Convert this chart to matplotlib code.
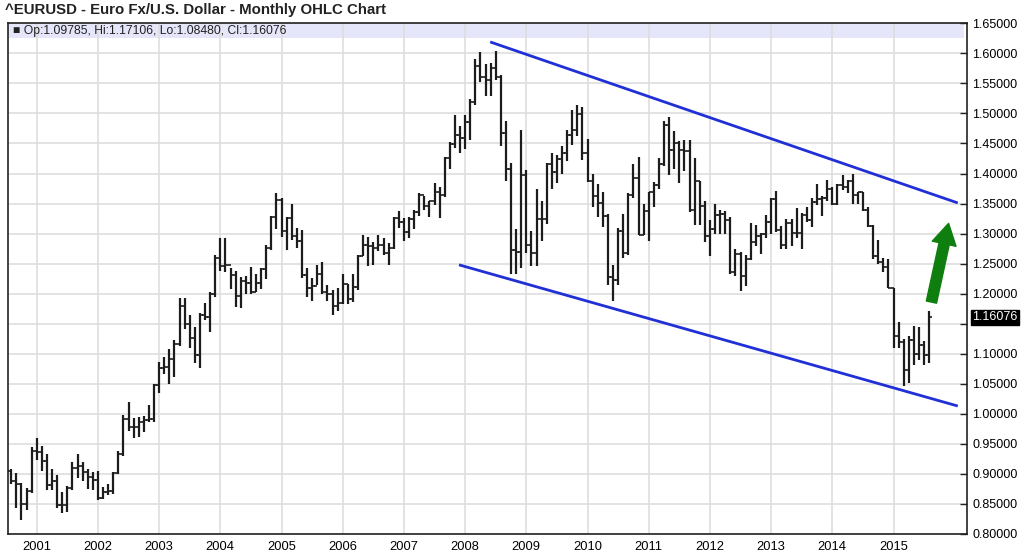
# EURUSD monthly OHLC with a falling channel drawn on top
# - bars Aug 2000 .. Aug 2015 (last one partial)
# - two hand-drawn channel lines and a green "up" arrow

# %%
import matplotlib
matplotlib.use("Agg")
import pandas as pd
from matplotlib import pyplot as plt
from matplotlib import transforms

plt.rcParams['font.family'] = ['Liberation Sans', 'DejaVu Sans']

# %% Data
months = pd.period_range("2000-08", "2015-08", freq="M")

opens = [
    0.9050, 0.8876, 0.8825, 0.8493, 0.8716,
    0.9388, 0.9366, 0.9213, 0.8809, 0.8884, 0.8478, 0.8478, 0.8763, 0.9100, 0.9124, 0.9039, 0.8953,
    0.8895, 0.8604, 0.8702, 0.8721, 0.9012, 0.9336, 0.9917, 0.9783, 0.9786, 0.9866, 0.9891, 0.9921,
    1.0487, 1.0765, 1.0786, 1.0908, 1.1161, 1.1793, 1.1499, 1.1256, 1.0976, 1.1652, 1.1604, 1.1991,
    1.2597, 1.2453, 1.2480, 1.2308, 1.1963, 1.2218, 1.2179, 1.2030, 1.2174, 1.2415, 1.2768, 1.3274,
    1.3554, 1.3047, 1.3255, 1.2963, 1.2870, 1.2303, 1.2100, 1.2125, 1.2334, 1.2026, 1.1990, 1.1792,
    1.1849, 1.2154, 1.1918, 1.2116, 1.2624, 1.2813, 1.2791, 1.2765, 1.2810, 1.2676, 1.2759, 1.3254,
    1.3199, 1.3032, 1.3236, 1.3362, 1.3649, 1.3459, 1.3543, 1.3686, 1.3638, 1.4265, 1.4491, 1.4637,
    1.4590, 1.4857, 1.5183, 1.5787, 1.5604, 1.5552, 1.5751, 1.5604, 1.4675, 1.4082, 1.2732, 1.2699,
    1.3978, 1.2805, 1.2672, 1.3250, 1.3242, 1.4151, 1.4032, 1.4245, 1.4334, 1.4638, 1.4718, 1.4996,
    1.4338, 1.3868, 1.3630, 1.3511, 1.3295, 1.2278, 1.2235, 1.3050, 1.2677, 1.3634, 1.3924, 1.2983,
    1.3384, 1.3689, 1.3802, 1.4165, 1.4807, 1.4394, 1.4501, 1.4393, 1.4374, 1.3391, 1.3867, 1.3451,
    1.2961, 1.3079, 1.3316, 1.3322, 1.3231, 1.2365, 1.2667, 1.2302, 1.2576, 1.2860, 1.2954, 1.2985,
    1.3193, 1.3579, 1.3055, 1.2816, 1.3169, 1.3002, 1.3010, 1.3302, 1.3222, 1.3525, 1.3583, 1.3590,
    1.3743, 1.3487, 1.3803, 1.3770, 1.3871, 1.3635, 1.3690, 1.3388, 1.3131, 1.2630, 1.2525, 1.2452,
    1.2098, 1.1289, 1.1196, 1.0731, 1.1224, 1.0988, 1.1147, 1.09785,
]
highs = [
    0.9080, 0.9020, 0.8850, 0.8760, 0.9440,
    0.9594, 0.9464, 0.9330, 0.9080, 0.8980, 0.8700, 0.8800, 0.9200, 0.9338, 0.9204, 0.9080, 0.9030,
    0.9050, 0.8780, 0.8840, 0.9040, 0.9380, 0.9975, 1.0190, 0.9930, 0.9950, 0.9960, 1.0140, 1.0500,
    1.0870, 1.0940, 1.1080, 1.1230, 1.1930, 1.1930, 1.1640, 1.1440, 1.1680, 1.1850, 1.2020, 1.2640,
    1.2930, 1.2930, 1.2430, 1.2370, 1.2280, 1.2300, 1.2440, 1.2330, 1.2430, 1.2810, 1.3290, 1.3670,
    1.3590, 1.3280, 1.3490, 1.3100, 1.3060, 1.2420, 1.2260, 1.2480, 1.2530, 1.2150, 1.2060, 1.2090,
    1.2320, 1.2160, 1.2320, 1.2640, 1.2980, 1.2950, 1.2860, 1.2980, 1.2920, 1.2840, 1.3270, 1.3370,
    1.3260, 1.3270, 1.3390, 1.3680, 1.3630, 1.3550, 1.3850, 1.3780, 1.4280, 1.4520, 1.4970, 1.4790,
    1.4970, 1.5240, 1.5900, 1.6020, 1.5820, 1.5840, 1.6040, 1.5640, 1.4870, 1.4180, 1.3080, 1.4720,
    1.4060, 1.3050, 1.3740, 1.3540, 1.4170, 1.4340, 1.4300, 1.4450, 1.4720, 1.5060, 1.5140, 1.5100,
    1.4580, 1.3990, 1.3820, 1.3690, 1.3330, 1.2470, 1.3100, 1.3330, 1.3680, 1.4160, 1.4280, 1.3500,
    1.3700, 1.3860, 1.4250, 1.4880, 1.4940, 1.4700, 1.4540, 1.4550, 1.4550, 1.4250, 1.3880, 1.3550,
    1.3230, 1.3490, 1.3390, 1.3380, 1.3280, 1.2750, 1.2690, 1.2640, 1.3170, 1.3140, 1.3010, 1.3310,
    1.3590, 1.3710, 1.3130, 1.3240, 1.3240, 1.3420, 1.3340, 1.3450, 1.3590, 1.3830, 1.3620, 1.3890,
    1.3770, 1.3820, 1.3970, 1.3900, 1.3990, 1.3700, 1.3700, 1.3440, 1.3150, 1.2890, 1.2600, 1.2570,
    1.2100, 1.1530, 1.1240, 1.1290, 1.1470, 1.1440, 1.1220, 1.17106,
]
lows = [
    0.8840, 0.8440, 0.8228, 0.8400, 0.8690,
    0.9230, 0.9054, 0.8736, 0.8740, 0.8430, 0.8350, 0.8370, 0.8730, 0.8932, 0.8886, 0.8750, 0.8730,
    0.8570, 0.8580, 0.8650, 0.8660, 0.9000, 0.9300, 0.9720, 0.9600, 0.9620, 0.9690, 0.9870, 0.9860,
    1.0340, 1.0660, 1.0500, 1.0620, 1.1130, 1.1410, 1.1090, 1.0840, 1.0770, 1.1560, 1.1360, 1.1950,
    1.2370, 1.2360, 1.2080, 1.1770, 1.1760, 1.1990, 1.2000, 1.2020, 1.2080, 1.2250, 1.2730, 1.3080,
    1.2950, 1.2730, 1.2890, 1.2760, 1.2260, 1.1950, 1.1870, 1.2140, 1.2000, 1.1870, 1.1640, 1.1710,
    1.1830, 1.1830, 1.1860, 1.2060, 1.2620, 1.2460, 1.2480, 1.2710, 1.2650, 1.2480, 1.2740, 1.3100,
    1.2870, 1.2930, 1.3070, 1.3300, 1.3390, 1.3270, 1.3480, 1.3260, 1.3610, 1.4080, 1.4420, 1.4340,
    1.4400, 1.4560, 1.5140, 1.5530, 1.5290, 1.5290, 1.5560, 1.4450, 1.3880, 1.2330, 1.2330, 1.2420,
    1.2680, 1.2460, 1.2460, 1.2880, 1.3160, 1.3750, 1.3840, 1.4000, 1.4210, 1.4480, 1.4630, 1.4220,
    1.3860, 1.3440, 1.3270, 1.3110, 1.2140, 1.1880, 1.2150, 1.2590, 1.2640, 1.3600, 1.2970, 1.2970,
    1.2870, 1.3450, 1.3750, 1.4120, 1.3970, 1.4070, 1.3840, 1.4050, 1.3360, 1.3150, 1.3150, 1.2860,
    1.2620, 1.3000, 1.3000, 1.3000, 1.2330, 1.2290, 1.2040, 1.2130, 1.2560, 1.2800, 1.2660, 1.2930,
    1.2990, 1.3030, 1.2750, 1.2740, 1.2790, 1.2930, 1.2750, 1.3200, 1.3110, 1.3480, 1.3300, 1.3550,
    1.3480, 1.3480, 1.3720, 1.3670, 1.3500, 1.3500, 1.3370, 1.3110, 1.2570, 1.2500, 1.2360, 1.2090,
    1.1100, 1.1100, 1.0460, 1.0520, 1.0820, 1.0890, 1.0810, 1.08480,
]
closes = [
    0.8876, 0.8825, 0.8493, 0.8716, 0.9388,
    0.9366, 0.9213, 0.8809, 0.8884, 0.8478, 0.8478, 0.8763, 0.9100, 0.9124, 0.9039, 0.8953, 0.8895,
    0.8604, 0.8702, 0.8721, 0.9012, 0.9336, 0.9917, 0.9783, 0.9786, 0.9866, 0.9891, 0.9921, 1.0487,
    1.0765, 1.0786, 1.0908, 1.1161, 1.1793, 1.1499, 1.1256, 1.0976, 1.1652, 1.1604, 1.1991, 1.2597,
    1.2453, 1.2480, 1.2308, 1.1963, 1.2218, 1.2179, 1.2030, 1.2174, 1.2415, 1.2768, 1.3274, 1.3554,
    1.3047, 1.3255, 1.2963, 1.2870, 1.2303, 1.2100, 1.2125, 1.2334, 1.2026, 1.1990, 1.1792, 1.1849,
    1.2154, 1.1918, 1.2116, 1.2624, 1.2813, 1.2791, 1.2765, 1.2810, 1.2676, 1.2759, 1.3254, 1.3199,
    1.3032, 1.3236, 1.3362, 1.3649, 1.3459, 1.3543, 1.3686, 1.3638, 1.4265, 1.4491, 1.4637, 1.4590,
    1.4857, 1.5183, 1.5787, 1.5604, 1.5552, 1.5751, 1.5604, 1.4675, 1.4082, 1.2732, 1.2699, 1.3978,
    1.2805, 1.2672, 1.3250, 1.3242, 1.4151, 1.4032, 1.4245, 1.4334, 1.4638, 1.4718, 1.4996, 1.4338,
    1.3868, 1.3630, 1.3511, 1.3295, 1.2278, 1.2235, 1.3050, 1.2677, 1.3634, 1.3924, 1.2983, 1.3384,
    1.3689, 1.3802, 1.4165, 1.4807, 1.4394, 1.4501, 1.4393, 1.4374, 1.3391, 1.3867, 1.3451, 1.2961,
    1.3079, 1.3316, 1.3322, 1.3231, 1.2365, 1.2667, 1.2302, 1.2576, 1.2860, 1.2954, 1.2985, 1.3193,
    1.3579, 1.3055, 1.2816, 1.3169, 1.3002, 1.3010, 1.3302, 1.3222, 1.3525, 1.3583, 1.3590, 1.3743,
    1.3487, 1.3803, 1.3770, 1.3871, 1.3635, 1.3690, 1.3388, 1.3131, 1.2630, 1.2525, 1.2452, 1.2098,
    1.1289, 1.1196, 1.0731, 1.1224, 1.0988, 1.1147, 1.0985, 1.16076,
]

# channel lines and arrow (decimal year, price)
upper_x, upper_y = [2008.41, 2016.05], [1.619, 1.351]
lower_x, lower_y = [2007.90, 2016.05], [1.248, 1.013]
arrow_tail = (2015.62, 1.186)
arrow_tip = (2015.90, 1.317)

years = list(range(2001, 2016))
yticks = [0.80, 0.85, 0.90, 0.95, 1.00, 1.05, 1.10, 1.15, 1.20,
          1.25, 1.30, 1.35, 1.40, 1.45, 1.50, 1.55, 1.60, 1.65]
last_label = "1.16076"
legend_label = "\u25a0 Op:1.09785, Hi:1.17106, Lo:1.08480, Cl:1.16076"
title = "^EURUSD - Euro Fx/U.S. Dollar - Monthly OHLC Chart"

# %% Figure
fig = plt.figure(figsize=(10.24, 5.57), dpi=100)
W, H = 1024, 557
ax = fig.add_axes([8 / W, 23 / H, 958.7 / W, 510.7 / H])

x = months.year + (months.month - 1) / 12
tick = 0.045
bar_c = '#1c1c1c'
ax.vlines(x, lows, highs, color=bar_c, lw=1.6, zorder=3)
ax.hlines(opens, x - tick, x, color=bar_c, lw=1.2, zorder=3)
ax.hlines(closes, x, x + tick, color=bar_c, lw=1.2, zorder=3)

ax.plot(upper_x, upper_y, color='#2130d6', lw=2.0, zorder=4,
        solid_capstyle='butt')
ax.plot(lower_x, lower_y, color='#2130d6', lw=2.0, zorder=4,
        solid_capstyle='butt')
ax.annotate('', xy=arrow_tip, xytext=arrow_tail,
            arrowprops=dict(arrowstyle='simple,head_length=1.5,head_width=1.75,tail_width=0.75',
                            mutation_scale=10, color='#0e7f0e', shrinkA=0, shrinkB=0),
            zorder=5)

ax.set_xlim(2000.531, 2016.196)
ax.set_ylim(0.80, 1.65)

ax.axhspan(1.625, 1.65, xmin=0, xmax=956 / 958.7, color='#e6e6fa', zorder=0.5, lw=0)
ax.set_axisbelow(True)
ax.grid(color='#dedede', lw=1.2)

ax.set_xticks(years)
ax.set_xticklabels([str(y) for y in years], fontsize=9.3)
ax.set_yticks(yticks)
ax.set_yticklabels(['' if abs(v - 1.15) < 1e-9 else f"{v:.5f}" for v in yticks],
                   fontsize=9)
ax.yaxis.tick_right()
ax.tick_params(axis='x', length=0, pad=5)
ax.tick_params(axis='y', direction='in', length=5, width=1, pad=4, color='#222')
for s in ax.spines.values():
    s.set_linewidth(1.2)
    s.set_color('#222')

trans = transforms.blended_transform_factory(ax.transAxes, ax.transData)
ax.text(1.006, 1.16076, last_label, transform=trans, color='white', fontsize=9,
        va='center', ha='left', clip_on=False, zorder=6,
        bbox=dict(boxstyle='square,pad=0.12', fc='black', ec='black'))

fig.text(13 / W, 1 - 31 / H, legend_label, fontsize=8.7, va='center', ha='left',
         color='#222')
fig.text(5 / W, 1 - 10 / H, title, fontsize=10.8, fontweight='bold', va='center',
         ha='left', color='#222')

fig.savefig("out.png", dpi=100)
